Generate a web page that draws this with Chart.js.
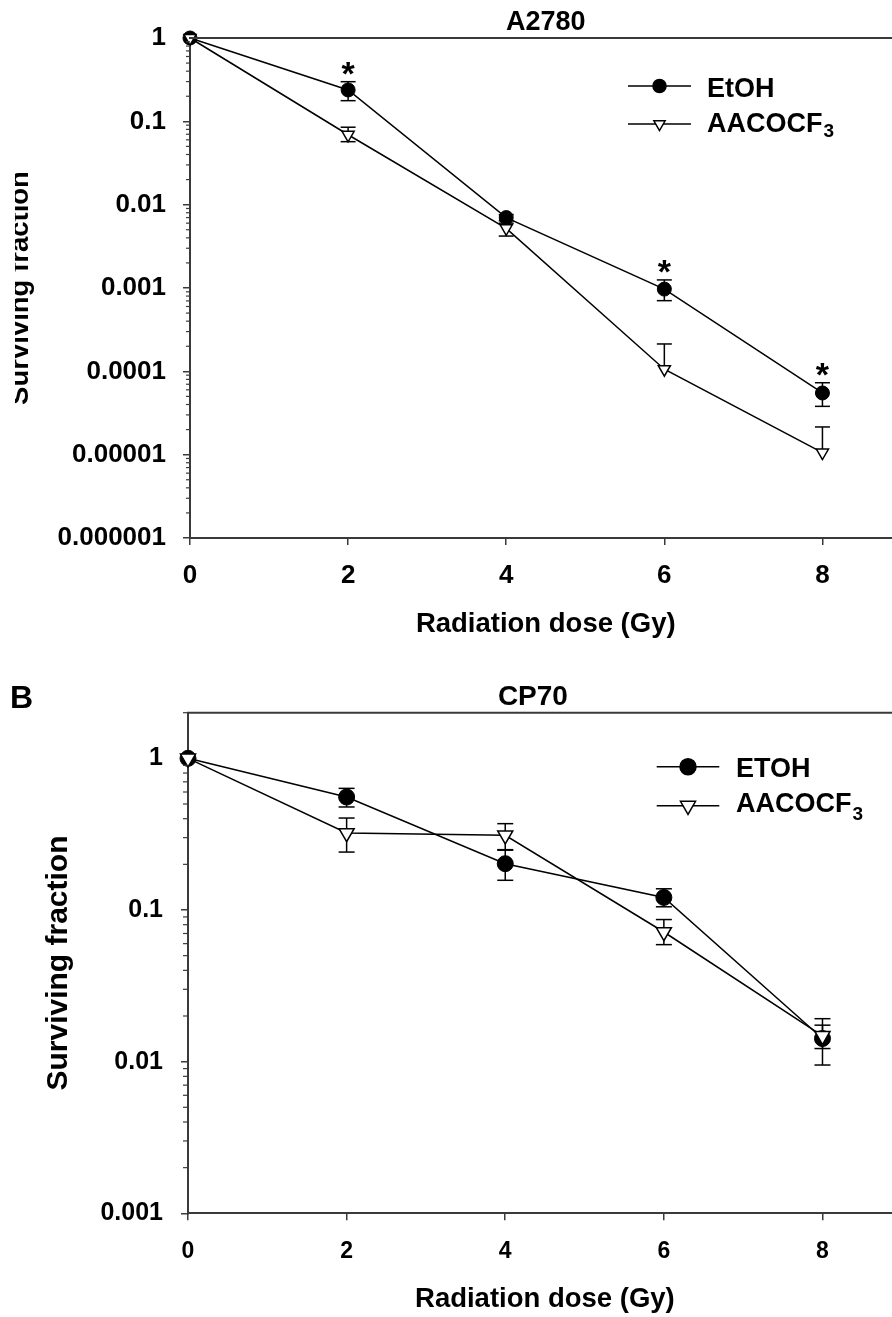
<!DOCTYPE html>
<html><head><meta charset="utf-8">
<script src="https://cdn.jsdelivr.net/npm/chart.js@4.4.1/dist/chart.umd.min.js"></script>
<style>
html,body{margin:0;padding:0;background:#fff;overflow:hidden;width:892px;height:1317px;position:relative;}
#wa{position:absolute;left:0;top:0;width:910px;height:655px;}
#wb{position:absolute;left:0;top:655px;width:912px;height:662px;}
canvas{display:block;}
</style></head><body>
<div id="wa"><canvas id="ca" width="910" height="655"></canvas></div>
<div id="wb"><canvas id="cb" width="912" height="662"></canvas></div>
<script>
// ---------- DATA ----------
const doses = [0, 2, 4, 6, 8];
const xTickValues = [0, 2, 4, 6, 8];
const xTickLabels = ['0', '2', '4', '6', '8'];
const seriesNamesA = ['EtOH', 'AACOCF'];
const seriesNamesB = ['ETOH', 'AACOCF'];
const subscriptText = '3';

// Panel A: A2780
const a_etoh      = [1, 0.238, 0.0070, 0.00097, 0.000055];
const a_etohHigh  = [null, 0.299, 0.0076, 0.00125, 0.000073];
const a_etohLow   = [null, 0.177, 0.0064, 0.000705, 0.000038];
const a_aaco      = [1, 0.069, 0.0052, 0.000106, 0.0000106];
const a_aacoHigh  = [null, 0.085, 0.0060, 0.000213, 0.0000215];
const a_aacoLow   = [null, 0.057, 0.0042, null, null];
const a_sigDoses  = [2, 6, 8];
const a_yTicks    = [0.000001, 0.00001, 0.0001, 0.001, 0.01, 0.1, 1];
const a_yLabels   = ['0.000001', '0.00001', '0.0001', '0.001', '0.01', '0.1', '1'];

// Panel B: CP70
const b_etoh      = [1, 0.556, 0.202, 0.121, 0.0142];
const b_etohHigh  = [null, 0.634, 0.248, 0.138, 0.0192];
const b_etohLow   = [null, 0.478, 0.157, 0.105, 0.0122];
const b_aaco      = [1, 0.322, 0.311, 0.0716, 0.0148];
const b_aacoHigh  = [null, 0.404, 0.371, 0.0865, 0.0174];
const b_aacoLow   = [null, 0.241, 0.25, 0.0591, 0.0095];
const b_sigDoses  = [];
const b_yTicks    = [0.001, 0.01, 0.1, 1];
const b_yLabels   = ['0.001', '0.01', '0.1', '1'];

// ---------- RENDER ----------
const FONT = "'Liberation Sans', Arial, Helvetica, sans-serif";
Chart.defaults.font.family = FONT;
Chart.defaults.font.weight = 'bold';
Chart.defaults.color = '#000';
const AXIS = '#3a3a3a';

function pts(xs, ys) { return xs.map((x, i) => ({x: x, y: ys[i]})); }

function buildChart(id, p) {
  const canvas = document.getElementById(id);
  const H = canvas.height;

  function seg(c, x1, y1, x2, y2) { c.beginPath(); c.moveTo(x1, y1); c.lineTo(x2, y2); c.stroke(); }

  const overlay = {
    id: 'overlay',
    beforeDatasetsDraw(chart) {
      const c = chart.ctx, xs = chart.scales.x, ys = chart.scales.y;
      c.save();
      c.strokeStyle = '#000'; c.lineWidth = 1.5;
      [[p.etoh, p.etohHigh, p.etohLow], [p.aaco, p.aacoHigh, p.aacoLow]].forEach(([v, h, l]) => {
        doses.forEach((d, i) => {
          const x = xs.getPixelForValue(d);
          const y0 = ys.getPixelForValue(v[i]);
          if (h[i] != null) {
            const yh = ys.getPixelForValue(h[i]);
            seg(c, x, y0, x, yh); seg(c, x - p.cap, yh, x + p.cap, yh);
          }
          if (l[i] != null) {
            const yl = ys.getPixelForValue(l[i]);
            seg(c, x, y0, x, yl); seg(c, x - p.cap, yl, x + p.cap, yl);
          }
        });
      });
      c.restore();
    },
    afterDraw(chart) {
      const c = chart.ctx, xs = chart.scales.x, ys = chart.scales.y, ca = chart.chartArea;
      c.save();
      // top frame line
      c.strokeStyle = AXIS; c.lineWidth = 2;
      seg(c, ca.left - 1, ca.top, ca.right, ca.top);
      // minor log ticks
      c.lineWidth = 1.2;
      const k0 = Math.floor(Math.log10(ys.min)), k1 = Math.ceil(Math.log10(ys.max));
      for (let k = k0; k <= k1; k++) {
        for (let m = 2; m <= 9; m++) {
          const v = m * Math.pow(10, k);
          if (v < ys.min || v > ys.max * 1.0001) continue;
          const y = ys.getPixelForValue(v);
          seg(c, ca.left - p.minorLen, y, ca.left, y);
        }
      }
      // asterisks
      c.fillStyle = '#000';
      c.font = 'bold 34px ' + FONT;
      c.textAlign = 'center'; c.textBaseline = 'alphabetic';
      p.sig.forEach(d => {
        const i = doses.indexOf(d);
        const x = xs.getPixelForValue(d);
        const y = ys.getPixelForValue(p.etohHigh[i]);
        c.fillText('*', x, y + 3);
      });
      // chart title
      c.font = 'bold ' + p.titleSize + 'px ' + FONT;
      c.fillText(p.title, (ca.left + ca.right) / 2 + p.titleDx, p.titleBase);
      // y-axis title
      c.save();
      c.beginPath(); c.rect(p.yTitleClip, 0, 400, H); c.clip();
      c.translate(p.yTitleX, (ca.top + ca.bottom) / 2);
      c.rotate(-Math.PI / 2);
      c.font = 'bold ' + p.yTitleSize + 'px ' + FONT;
      c.textAlign = 'center'; c.textBaseline = 'alphabetic';
      c.fillText('Surviving fraction', 0, 0);
      c.restore();
      // legend
      const lx = ca.left + p.legX, len = p.legLen, mx = lx + len / 2;
      const y1 = ca.top + p.legY1, y2 = ca.top + p.legY2;
      c.strokeStyle = '#000'; c.lineWidth = 1.5;
      seg(c, lx, y1, lx + len, y1);
      seg(c, lx, y2, lx + len, y2);
      c.fillStyle = '#000';
      Chart.helpers.drawPoint(c, {pointStyle: 'circle', radius: p.legR, borderWidth: 1}, mx, y1);
      c.fillStyle = '#fff'; c.lineWidth = 1.5;
      Chart.helpers.drawPoint(c, {pointStyle: 'triangle', rotation: 180, radius: p.legTri, borderWidth: 1.5}, mx, y2);
      c.fillStyle = '#000';
      c.textAlign = 'left';
      c.font = 'bold ' + p.legSize + 'px ' + FONT;
      const tx = lx + p.legTx;
      c.fillText(p.names[0], tx, y1 + p.legB1);
      c.fillText(p.names[1], tx, y2 + p.legB2);
      const w = c.measureText(p.names[1]).width;
      c.font = 'bold ' + p.subSize + 'px ' + FONT;
      c.fillText(subscriptText, tx + w + 1, y2 + p.legB2 + p.subDy);
      // panel letter
      if (p.letter) {
        c.font = 'bold 32px ' + FONT;
        c.fillText(p.letter, 10, p.letterBase);
      }
      c.restore();
    }
  };

  return new Chart(canvas, {
    type: 'line',
    data: {
      datasets: [
        {label: p.names[0], data: pts(doses, p.etoh), order: 1, borderColor: '#000', borderWidth: 1.5,
         pointStyle: 'circle', pointRadius: p.circR, pointBackgroundColor: '#000', pointBorderColor: '#000',
         pointBorderWidth: 1, tension: 0, clip: false, fill: false},
        {label: p.names[1] + subscriptText, data: pts(doses, p.aaco), order: 0, borderColor: '#000', borderWidth: 1.5,
         pointStyle: 'triangle', pointRotation: 180, pointRadius: p.triR, pointBackgroundColor: '#fff',
         pointBorderColor: '#000', pointBorderWidth: 1.5, tension: 0, clip: false, fill: false}
      ]
    },
    options: {
      responsive: false, animation: false, devicePixelRatio: 1,
      layout: {padding: {left: 0, top: p.padTop, right: p.padRight, bottom: p.padBottom}},
      plugins: {legend: {display: false}, tooltip: {enabled: false}, title: {display: false}},
      scales: {
        x: {
          type: 'linear', min: 0, max: 9,
          afterBuildTicks: s => { s.ticks = xTickValues.map(v => ({value: v})); },
          afterFit: s => { s.height = p.xAxisH; },
          grid: {drawOnChartArea: false, drawTicks: true, tickLength: 7, color: AXIS, lineWidth: 1.5},
          border: {display: true, color: AXIS, width: 2},
          ticks: {autoSkip: false, maxRotation: 0, padding: p.xPad, font: {size: p.xTickSize, weight: 'bold'}, color: '#000',
                  callback: (v, i) => xTickLabels[i]},
          title: {display: true, text: 'Radiation dose (Gy)', font: {size: 27.5, weight: 'bold'}, color: '#000',
                  padding: {top: 0, bottom: p.xTitlePad}}
        },
        y: {
          type: 'logarithmic', min: p.yMin, max: p.yMax,
          afterBuildTicks: s => { s.ticks = p.yTicks.map(v => ({value: v})); },
          afterFit: s => { s.width = p.yAxisW; },
          grid: {drawOnChartArea: false, drawTicks: true, tickLength: 7, color: AXIS, lineWidth: 1.5},
          border: {display: true, color: AXIS, width: 2},
          ticks: {autoSkip: false, padding: p.yPad, font: {size: p.yTickSize, weight: 'bold'}, color: '#000',
                  callback: (v, i) => p.yLabels[i]}
        }
      }
    },
    plugins: [overlay]
  });
}

buildChart('ca', {
  etoh: a_etoh, etohHigh: a_etohHigh, etohLow: a_etohLow,
  aaco: a_aaco, aacoHigh: a_aacoHigh, aacoLow: a_aacoLow,
  sig: a_sigDoses, yTicks: a_yTicks, yLabels: a_yLabels, yMin: 0.000001, yMax: 1,
  names: seriesNamesA, title: 'A2780', titleSize: 27, titleDx: 0, titleBase: 30,
  padTop: 38, padRight: 6, padBottom: 0, xAxisH: 117, yAxisW: 190,
  xPad: 15, yPad: 17, xTickSize: 26, yTickSize: 26, xTitlePad: 14.5,
  cap: 7.5, circR: 7, triR: 7, minorLen: 4,
  yTitleX: 27.5, yTitleSize: 27.5, yTitleClip: 15,
  legX: 438, legLen: 63, legY1: 48, legY2: 86, legR: 6.5, legTri: 6.5, legTx: 79, legB1: 10.5, legB2: 7.5,
  legSize: 27, subSize: 19, subDy: 5.7, letter: null
});

buildChart('cb', {
  etoh: b_etoh, etohHigh: b_etohHigh, etohLow: b_etohLow,
  aaco: b_aaco, aacoHigh: b_aacoHigh, aacoLow: b_aacoLow,
  sig: b_sigDoses, yTicks: b_yTicks, yLabels: b_yLabels, yMin: 0.001, yMax: 2,
  names: seriesNamesB, title: 'CP70', titleSize: 28, titleDx: -12, titleBase: 50,
  padTop: 57.7, padRight: 4, padBottom: 0, xAxisH: 103.7, yAxisW: 188,
  xPad: 18, yPad: 18, xTickSize: 23, yTickSize: 25, xTitlePad: 1.5,
  cap: 8, circR: 8, triR: 8.7, minorLen: 5,
  yTitleX: 67, yTitleSize: 30, yTitleClip: 0,
  legX: 468.7, legLen: 62.6, legY1: 54, legY2: 93, legR: 8, legTri: 8.7, legTx: 79.3, legB1: 10, legB2: 6,
  legSize: 27, subSize: 19, subDy: 8, letter: 'B', letterBase: 53
});
</script>
</body></html>
